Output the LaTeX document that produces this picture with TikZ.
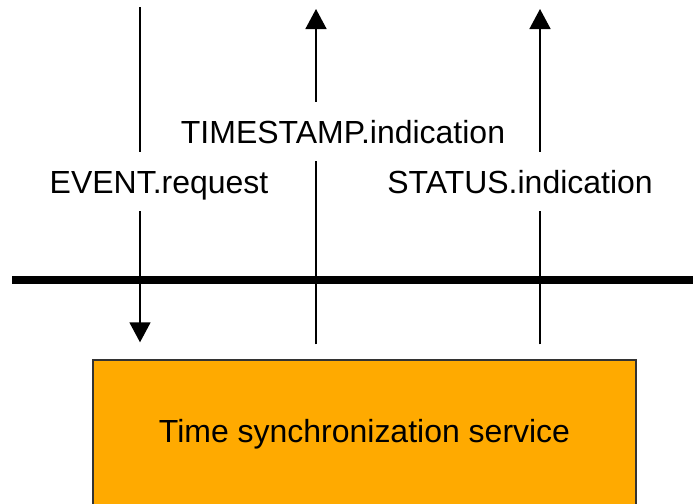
\documentclass[tikz,border=0pt]{standalone}
\usepackage{fontspec}
\setmainfont{Liberation Sans}
\usetikzlibrary{arrows.meta}
\definecolor{serviceorange}{RGB}{255,170,0}

\begin{document}
\begin{tikzpicture}[
    prim/.style={line width=0.9pt},
    prim arrow/.style={prim, -{Triangle[width=0.42cm,length=0.4cm]}},
    layer line/.style={line width=4pt},
    primname/.style={anchor=base, inner xsep=0pt, inner ysep=0.2cm,
    text height=0.62cm, text depth=0.16cm,
    font=\fontsize{18.2}{22}\selectfont},
    service/.style={draw=black!80, line width=0.8pt, fill=serviceorange,
    minimum width=10.86cm, minimum height=2.96cm, inner sep=0pt,
    font=\fontsize{18.2}{22}\selectfont}
    ]

\useasboundingbox (0,0) rectangle (13.86,-10.06);

\coordinate (top1) at (2.8,-0.14);
\coordinate (top2) at (6.32,-0.18);
\coordinate (top3) at (10.8,-0.18);
\coordinate (bus west) at (0.24,-5.6);
\coordinate (bus east) at (13.86,-5.6);

\node[service] (tss) at (7.29,-8.68) {Time synchronization service};

\node[primname] (event) at (3.18,-3.86) {EVENT.request};
\node[primname] (stamp) at (6.86,-2.86) {TIMESTAMP.indication};
\node[primname] (status) at (10.4,-3.86) {STATUS.indication};

\draw[layer line] (bus west) -- (bus east);

% request goes down, indications come up
\draw[prim] (top1) -- (event.north -| top1);
\draw[prim arrow, shorten >=0.34cm] (event.south -| top1) -- (tss.north -| top1);

\draw[prim arrow] (stamp.north -| top2) -- (top2);
\draw[prim, shorten <=0.3cm] (tss.north -| top2) -- (stamp.south -| top2);

\draw[prim arrow] (status.north -| top3) -- (top3);
\draw[prim, shorten <=0.3cm] (tss.north -| top3) -- (status.south -| top3);

\end{tikzpicture}
\end{document}
